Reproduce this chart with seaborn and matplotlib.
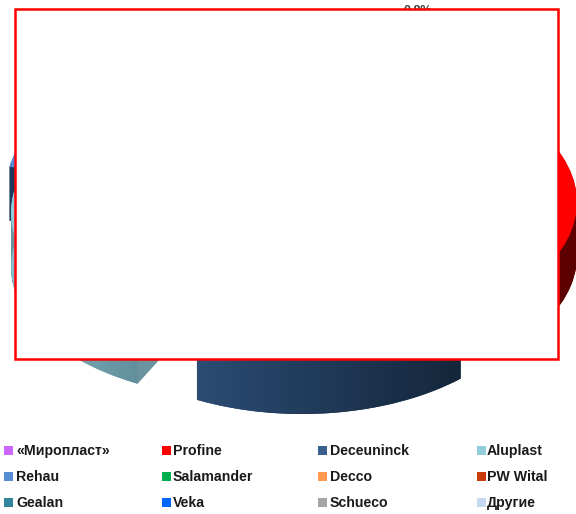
import numpy as np
import matplotlib
matplotlib.use("Agg")
import matplotlib.pyplot as plt
from matplotlib.colors import LinearSegmentedColormap
from matplotlib.patches import Polygon, Rectangle
import seaborn as sns

labels = ["«Миропласт»", "Profine", "Deceuninck", "Aluplast",
          "Rehau", "Salamander", "Decco", "PW Wital",
          "Gealan", "Veka", "Schueco", "Другие"]
shares = [0.8, 37.2, 19.5, 20.2, 8.0, 5.0, 3.0, 2.5, 1.5, 1.0, 0.8, 0.5]
top_hex = ["#cc66ff", "#ff0000", "#3a6090", "#92cddc", "#558ed5", "#00b050",
           "#ff9a50", "#c83c0c", "#31849b", "#0066ff", "#a6a6a6", "#c6d9f1"]
side_hex = ["#6b3380", "#5c0000", "#1c3350", "#6b949e", "#1d3a5e", "#005828",
            "#804d28", "#641e06", "#18424e", "#003380", "#535353", "#636d79"]
first_label = "0,8%"

W, H = 576, 514
CX, CY, RX, RY, DEPTH = 293, 205, 232, 131, 54
EXPLODE = 0.237
YS = RX / RY
# perspective-corrected slice centres (pixels) for the visible exploded slices
slice_centres = {1: (345, 202), 2: (302, 229), 3: (243, 213), 4: (238, 189)}

sns.set_theme(style="white")
plt.rcParams["font.family"] = ["Liberation Sans", "DejaVu Sans"]
palette = sns.color_palette(top_hex)
side_palette = sns.color_palette(side_hex)

fig = plt.figure(figsize=(W / 100, H / 100), dpi=100)
ax = fig.add_axes([0, 0, 1, 1])


def to_y(px):
    return (CY - px) * YS


mids = 360 * (np.cumsum(shares) - np.array(shares) / 2) / sum(shares)
rank = np.argsort(np.argsort(-np.abs(mids - 180)))

for layer in range(DEPTH, -1, -1):
    colors = palette if layer == 0 else side_palette
    wedges, _ = ax.pie(shares, colors=colors, explode=[EXPLODE] * len(shares),
                       startangle=90, counterclock=False, radius=RX,
                       center=(CX, to_y(CY + layer)),
                       wedgeprops={"linewidth": 0})
    for i, w in enumerate(wedges):
        if i in slice_centres:
            sx, sy = slice_centres[i]
            w.set_center((sx, to_y(sy + layer)))
        z = 1 + rank[i] + (0.98 if layer == 0 else 0.9 * (DEPTH - layer) / DEPTH)
        w.set_zorder(z)
    if layer == 0:
        top_wedges = wedges

# gradient shading on the outer wall of the front slices
for idx, stops in {2: ["#2b4c74", "#14263a"], 3: ["#84bcc9", "#628f9b"]}.items():
    w = top_wedges[idx]
    t = np.radians(np.linspace(w.theta1, w.theta2, 120))
    x = w.center[0] + w.r * np.cos(t)
    y = w.center[1] + w.r * np.sin(t)
    drop = DEPTH * YS
    poly = Polygon(np.r_[np.c_[x, y], np.c_[x, y - drop][::-1]], closed=True,
                   transform=ax.transData, fc="none", ec="none")
    ax.add_patch(poly)
    cmap = LinearSegmentedColormap.from_list("g", stops)
    im = ax.imshow(np.linspace(0, 1, 256)[None, :], cmap=cmap, aspect="auto",
                   extent=(x.min(), x.max(), (y - drop).min(), y.max()),
                   zorder=1 + rank[idx] + 0.95)
    im.set_clip_path(poly)

ax.text(418, to_y(5), first_label, ha="center", va="top", fontsize=9,
        fontweight="bold", color="#404040", zorder=30)

ax.set_aspect("auto")
ax.set_xlim(0, W)
ax.set_ylim(to_y(H), to_y(0))
ax.axis("off")

# white cover panel with red frame
fig.add_artist(Rectangle((15 / W, 1 - 358.5 / H), 543 / W, 350 / H,
                         transform=fig.transFigure, fc="white", ec="#ff0000",
                         lw=1.8, zorder=50))

col_sq = [4, 162, 318, 477]
col_tx = [16, 173, 330, 487]
row_y = [451, 477, 503]
for i, (lab, col) in enumerate(zip(labels, palette)):
    r, c = i // 4, i % 4
    fig.add_artist(Rectangle((col_sq[c] / W, 1 - (row_y[r] + 3.5) / H), 8.5 / W, 8.5 / H,
                             transform=fig.transFigure, fc=col, ec="none", zorder=51))
    fig.text(col_tx[c] / W, 1 - row_y[r] / H, lab, ha="left", va="center",
             fontsize=10.2, fontweight="bold", color="#1a1a1a", zorder=52)

fig.savefig("out.png", dpi=100, facecolor="white")
